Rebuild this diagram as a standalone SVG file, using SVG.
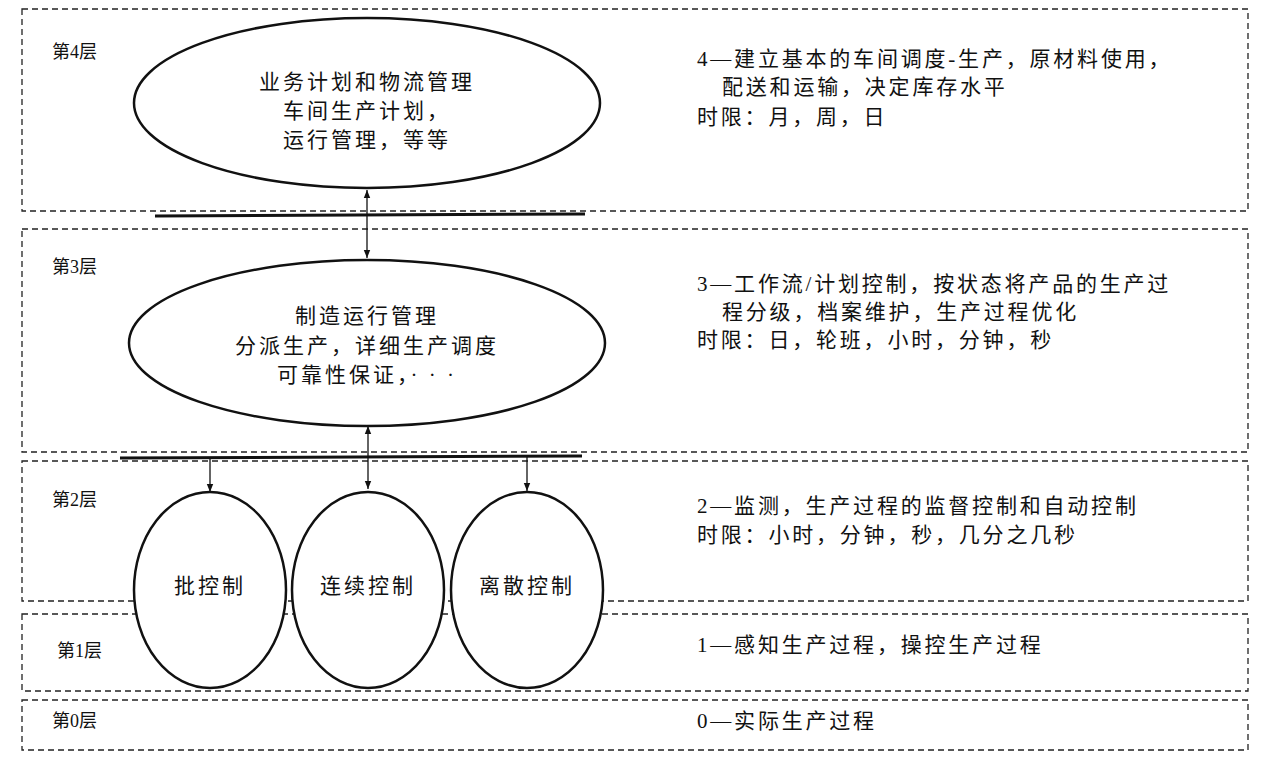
<svg xmlns="http://www.w3.org/2000/svg" width="1268" height="772" viewBox="0 0 1268 772">
<defs>
<marker id="ah" viewBox="0 0 10 10" refX="10" refY="5" markerWidth="8" markerHeight="10" orient="auto-start-reverse" markerUnits="userSpaceOnUse"><path d="M0,1 L10,5 L0,9 z" fill="#111"/></marker>
<style>
.box{fill:none;stroke:#222;stroke-width:1.3;stroke-dasharray:6 4}
.el{fill:#fff;stroke:#111;stroke-width:2.5}
.bus{stroke:#111;stroke-width:3}
.c{stroke:#111;stroke-width:1.3;fill:none}
text{font-family:"Liberation Serif","Noto Sans CJK SC",serif;font-size:21px;letter-spacing:2.8px;fill:#111}
.m{text-anchor:middle;font-size:21px;letter-spacing:3px}
.l{font-size:18px;letter-spacing:0}
</style>
</defs>
<rect width="1268" height="772" fill="#fff"/>
<g id="layers">
<rect class="box" x="22" y="9" width="1226" height="202"/>
<rect class="box" x="22" y="229" width="1226" height="223"/>
<rect class="box" x="22" y="461" width="1226" height="140"/>
<rect class="box" x="22" y="614" width="1226" height="77"/>
<rect class="box" x="22" y="700" width="1226" height="50"/>
<text class="l" x="52" y="58">第4层</text>
<text class="l" x="52" y="273">第3层</text>
<text class="l" x="52" y="506">第2层</text>
<text class="l" x="57" y="657">第1层</text>
<text class="l" x="52" y="727">第0层</text>
<text x="697" y="66">4—建立基本的车间调度-生产，原材料使用，</text>
<text x="722" y="94">配送和运输，决定库存水平</text>
<text x="697" y="124">时限：月，周，日</text>
<text x="697" y="291">3—工作流/计划控制，按状态将产品的生产过</text>
<text x="722" y="319">程分级，档案维护，生产过程优化</text>
<text x="697" y="347">时限：日，轮班，小时，分钟，秒</text>
<text x="697" y="513">2—监测，生产过程的监督控制和自动控制</text>
<text x="697" y="542">时限：小时，分钟，秒，几分之几秒</text>
<text x="697" y="652">1—感知生产过程，操控生产过程</text>
<text x="697" y="728">0—实际生产过程</text>
</g>
<g id="connectors">
<line class="bus" x1="155" y1="216" x2="585" y2="214"/>
<line class="bus" x1="120" y1="458" x2="582" y2="456"/>
<line class="c" x1="367" y1="190" x2="367" y2="258" marker-start="url(#ah)" marker-end="url(#ah)"/>
<line class="c" x1="368" y1="426" x2="368" y2="489" marker-start="url(#ah)" marker-end="url(#ah)"/>
<line class="c" x1="210" y1="458" x2="210" y2="492" marker-end="url(#ah)"/>
<line class="c" x1="527" y1="457" x2="527" y2="491" marker-end="url(#ah)"/>
</g>
<g id="n4"><ellipse class="el" cx="367" cy="103" rx="233" ry="85"/>
<text class="m" x="367" y="89">业务计划和物流管理</text>
<text class="m" x="367" y="118">车间生产计划，</text>
<text class="m" x="367" y="147">运行管理，等等</text></g>
<g id="n3"><ellipse class="el" cx="367" cy="343" rx="238" ry="83"/>
<text class="m" x="367" y="323">制造运行管理</text>
<text class="m" x="367" y="353">分派生产，详细生产调度</text>
<text class="m" x="367" y="382">可靠性保证，· · ·</text></g>
<g id="n_batch"><ellipse class="el" cx="210" cy="590" rx="76" ry="98"/><text class="m" x="210" y="593">批控制</text></g>
<g id="n_cont"><ellipse class="el" cx="368" cy="590" rx="76" ry="98"/><text class="m" x="368" y="593">连续控制</text></g>
<g id="n_disc"><ellipse class="el" cx="527" cy="590" rx="76" ry="98"/><text class="m" x="527" y="593">离散控制</text></g>
</svg>
